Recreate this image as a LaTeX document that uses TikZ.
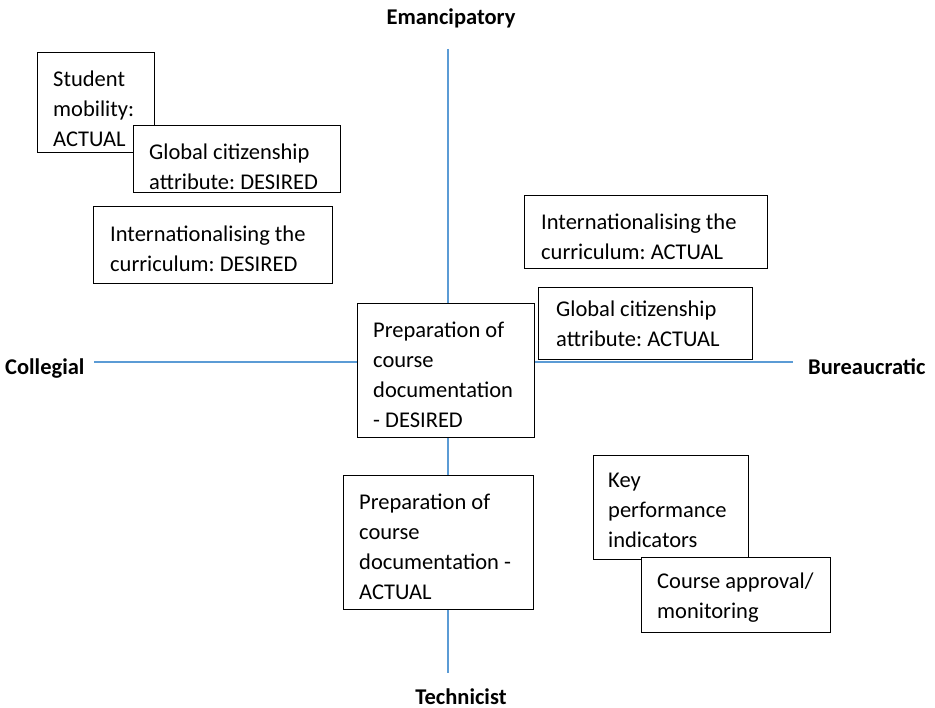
\documentclass[tikz,border=0pt]{standalone}
\usepackage{fontspec}
\setmainfont{Carlito}
\frenchspacing
\definecolor{axisblue}{RGB}{91,155,213}
\newcommand\mylines[1]{\vtop{\baselineskip=30pt\lineskiplimit=-20pt #1}}
\tikzset{
  axis/.style={draw=axisblue, line width=1.2pt},
  qbox/.style={draw=black, fill=white, line width=1.3pt, inner sep=0pt, anchor=north west},
  qtxt/.style={inner sep=0pt, anchor=base west, font=\fontsize{22.5}{30}\selectfont\frenchspacing},
  pole/.style={inner sep=0pt, font=\fontsize{22.5}{30}\selectfont\bfseries}
}
\begin{document}
\begin{tikzpicture}[x=1pt,y=-1pt]
\useasboundingbox[fill=white] (0,0) rectangle (935,708);
% axes
\coordinate (vtop) at (448,49);
\coordinate (vbot) at (448,673);
\coordinate (hleft) at (94,362);
\coordinate (hright) at (793,362);
\draw[axis] (vtop) -- (vbot);
\draw[axis] (hleft) -- (hright);
% pole labels
\node[pole, anchor=base] (emanc) at (451,25) {Emancipatory};
\node[pole, anchor=base] (techn) at (461,704) {Technicist};
\node[pole, anchor=base west] (colleg) at (5,375) {Collegial};
\node[pole, anchor=base west] (bureau) at (808,375) {Bureaucratic};
% boxes
\node[qbox, minimum width=117pt, minimum height=100pt] (sm) at (37,52) {};
\node[qtxt] (smt) at ([xshift=16pt,yshift=-35pt]sm.north west) {\mylines{\hbox{Student}\hbox{mobility:}\hbox{ACTUAL}}};

\node[qbox, minimum width=207pt, minimum height=67pt] (gd) at (133,125) {};
\node[qtxt] (gdt) at ([xshift=16pt,yshift=-35pt]gd.north west) {\mylines{\hbox{Global citizenship}\hbox{attribute: DESIRED}}};

\node[qbox, minimum width=239pt, minimum height=77pt] (idd) at (93,206) {};
\node[qtxt] (iddt) at ([xshift=17pt,yshift=-36pt]idd.north west) {\mylines{\hbox{Internationalising the}\hbox{curriculum: DESIRED}}};

\node[qbox, minimum width=243pt, minimum height=73pt] (ia) at (524,195) {};
\node[qtxt] (iat) at ([xshift=17pt,yshift=-35pt]ia.north west) {\mylines{\hbox{Internationalising the}\hbox{curriculum: ACTUAL}}};

\node[qbox, minimum width=214pt, minimum height=72pt] (ga) at (538,287) {};
\node[qtxt] (gat) at ([xshift=18pt,yshift=-30pt]ga.north west) {\mylines{\hbox{Global citizenship}\hbox{attribute: ACTUAL}}};

\node[qbox, minimum width=177pt, minimum height=134pt] (pd) at (357,303) {};
\node[qtxt] (pdt) at ([xshift=16pt,yshift=-35pt]pd.north west) {\mylines{\hbox{Preparation of}\hbox{course}\hbox{documentation}\hbox{- DESIRED}}};

\node[qbox, minimum width=190pt, minimum height=134pt] (pa) at (343,475) {};
\node[qtxt] (pat) at ([xshift=16pt,yshift=-35pt]pa.north west) {\mylines{\hbox{Preparation of}\hbox{course}\hbox{documentation -}\hbox{ACTUAL}}};

\node[qbox, minimum width=155pt, minimum height=104pt] (kp) at (593,455) {};
\node[qtxt] (kpt) at ([xshift=15pt,yshift=-33pt]kp.north west) {\mylines{\hbox{Key}\hbox{performance}\hbox{indicators}}};

\node[qbox, minimum width=189pt, minimum height=75pt] (ca) at (641,557) {};
\node[qtxt] (cat) at ([xshift=16pt,yshift=-31pt]ca.north west) {\mylines{\hbox{Course approval/}\hbox{monitoring}}};
\end{tikzpicture}
\end{document}
